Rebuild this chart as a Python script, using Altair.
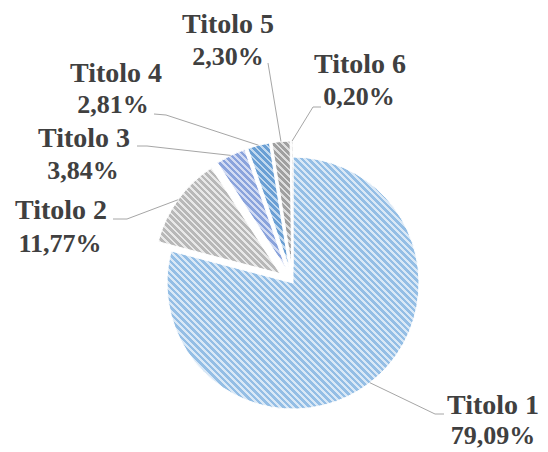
import math
import altair as alt
import pandas as pd

# ---- data ----
categories = ["Titolo 1", "Titolo 2", "Titolo 3", "Titolo 4", "Titolo 5", "Titolo 6"]
values = [79.09, 11.77, 3.84, 2.81, 2.30, 0.20]
pct_labels = ["79,09%", "11,77%", "3,84%", "2,81%", "2,30%", "0,20%"]

# ---- styles ----
dark = ["#94BEE5", "#B8B8B8", "#8AA3DC", "#6A9FD4", "#A0A0A0", "#C4C4C4"]
light = ["#D9E8F6", "#E8E8E8", "#D2DBF3", "#C0D8EF", "#DEDEDE", "#EAEAEA"]
explode = [0, 16, 16, 16, 16, 16]

# ---- layout (chart pixels) ----
CX, CY, R = 285, 275, 126
title_x = [485, 53, 76, 108, 220, 352]
title_y = [406, 211, 139, 74, 25, 65]
pct_x = [485, 52, 75, 105, 220, 351]
pct_y = [436, 244, 171, 105, 57, 97]
elbow_x = [427, 119, 139, 158, 260, 305]
elbow_y = [406, 211, 138, 107, 55, 99]
end_x = [436, 105, 129, 146, 260, 313]
end_y = [406, 211, 138, 106, 55, 99]

total = sum(values)


def stripes(a0, a1, c_dark, c_light, period=4.6, dark_frac=0.55):
    pts = [(0.0, 0.0), (R * math.sin(a0), -R * math.cos(a0)), (R * math.sin(a1), -R * math.cos(a1))]
    for q in range(5):
        ang = q * math.pi / 2
        if a0 <= ang <= a1:
            pts.append((R * math.sin(ang), -R * math.cos(ang)))
    xs = [p[0] for p in pts]
    ys = [p[1] for p in pts]
    w = max(max(xs) - min(xs), 1.0)
    h = max(max(ys) - min(ys), 1.0)
    k = (1 / h + 1 / w) / (1 / h ** 2 + 1 / w ** 2)
    L = k * (w / h + h / w) / math.sqrt(2)
    n = L / period
    stops = []
    j = 0
    while j < n:
        o0 = min(j / n, 1)
        o1 = min((j + dark_frac) / n, 1)
        o2 = min((j + 1) / n, 1)
        stops += [
            {"offset": round(o0, 5), "color": c_dark},
            {"offset": round(o1, 5), "color": c_dark},
            {"offset": round(o1, 5), "color": c_light},
            {"offset": round(o2, 5), "color": c_light},
        ]
        j += 1
    return {
        "gradient": "linear",
        "x1": 1, "y1": 0,
        "x2": round(1 - k / h, 5), "y2": round(k / w, 5),
        "stops": stops,
    }


grads = []
cum = 0.0
for i, v in enumerate(values):
    a0 = cum / total * 2 * math.pi
    cum += v
    a1 = cum / total * 2 * math.pi
    grads.append(stripes(a0, a1, dark[i], light[i]))

df = pd.DataFrame({
    "idx": list(range(len(categories))),
    "cat": categories,
    "value": values,
    "pct": pct_labels,
    "explode": explode,
    "tx": title_x, "ty": title_y,
    "px": pct_x, "py": pct_y,
    "ex": elbow_x, "ey": elbow_y,
    "fx": end_x, "fy": end_y,
})

base = alt.Chart(df).transform_window(
    cum="sum(value)", sort=[alt.SortField("idx")], frame=[None, 0]
).transform_joinaggregate(
    total="sum(value)"
).transform_calculate(
    start="datum.cum - datum.value",
    mid="(datum.cum - datum.value / 2) / datum.total * 2 * PI",
).transform_calculate(
    cx=f"{CX} + datum.explode * sin(datum.mid)",
    cy=f"{CY} - datum.explode * cos(datum.mid)",
).transform_calculate(
    sx=f"datum.cx + {R} * sin(datum.mid)",
    sy=f"datum.cy - {R} * cos(datum.mid)",
)

fill_spec = {
    "condition": [
        {"test": f"datum.cat === '{c}'", "value": grads[i]}
        for i, c in enumerate(categories) if i > 0
    ],
    "value": grads[0],
}

arcs = base.mark_arc(outerRadius=R, stroke="white", strokeWidth=1).encode(
    x=alt.X("cx:Q", scale=None, axis=None),
    y=alt.Y("cy:Q", scale=None, axis=None),
    theta=alt.Theta("start:Q", stack=None,
                    scale=alt.Scale(domain=[0, total], range=[0, 2 * math.pi])),
    theta2=alt.Theta2("cum:Q"),
    fill=fill_spec,
)

lead1 = base.mark_rule(color="#A6A6A6", strokeWidth=1).encode(
    x=alt.X("sx:Q", scale=None, axis=None),
    y=alt.Y("sy:Q", scale=None, axis=None),
    x2="ex:Q", y2="ey:Q",
)
lead2 = base.mark_rule(color="#A6A6A6", strokeWidth=1).encode(
    x=alt.X("ex:Q", scale=None, axis=None),
    y=alt.Y("ey:Q", scale=None, axis=None),
    x2="fx:Q", y2="fy:Q",
)

titles = base.mark_text(font="Liberation Serif", fontWeight="bold", fontSize=28,
                        color="#404040", align="center", baseline="alphabetic").encode(
    x=alt.X("tx:Q", scale=None, axis=None),
    y=alt.Y("ty:Q", scale=None, axis=None),
    text="cat:N",
)
pcts = base.mark_text(font="Liberation Serif", fontWeight="bold", fontSize=26,
                      color="#404040", align="center", baseline="alphabetic").encode(
    x=alt.X("px:Q", scale=None, axis=None),
    y=alt.Y("py:Q", scale=None, axis=None),
    text="pct:N",
)

chart = alt.layer(arcs, lead1, lead2, titles, pcts).properties(
    width=532, height=444,
    autosize=alt.AutoSizeParams(type="none"),
    padding=0,
).configure_view(stroke=None)

chart.save("out.html", embed_options={"renderer": "svg", "actions": False})
